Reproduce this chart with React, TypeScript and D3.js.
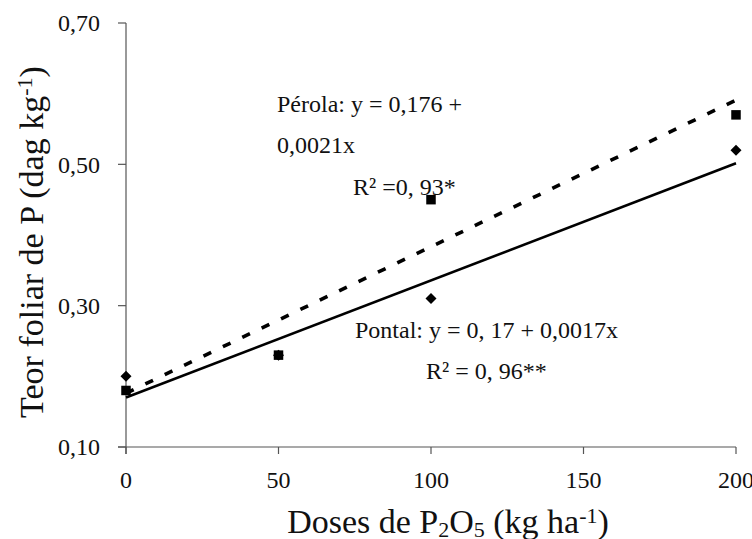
import React from "react";
import * as d3 from "d3";

const doses = [0, 50, 100, 200];
const perola = [0.18, 0.23, 0.45, 0.57];
const pontal = [0.2, 0.23, 0.31, 0.52];
const xTicks = [0, 50, 100, 150, 200];
const yTicks = [0.1, 0.3, 0.5, 0.7];

const W = 752;
const H = 539;
const FONT = "'Liberation Serif', 'Times New Roman', serif";

function fit(xs: number[], ys: number[]) {
  const mx = d3.mean(xs) as number;
  const my = d3.mean(ys) as number;
  let sxy = 0;
  let sxx = 0;
  xs.forEach((v, i) => {
    sxy += (v - mx) * (ys[i] - my);
    sxx += (v - mx) * (v - mx);
  });
  const b = sxy / sxx;
  const a = my - b * mx;
  return (v: number) => a + b * v;
}

const fmt = (v: number) => v.toFixed(2).replace(".", ",");

export default function App() {
  const x = d3.scaleLinear().domain([0, 200]).range([126, 736]);
  const y = d3.scaleLinear().domain([0.1, 0.7]).range([447, 23]);

  const fPer = fit(doses, perola);
  const fPon = fit(doses, pontal);
  const ends = [0, 200];
  const perLine = d3
    .line<number>()
    .x((d) => x(d))
    .y((d) => y(fPer(d)))(ends) as string;
  const ponLine = d3
    .line<number>()
    .x((d) => x(d))
    .y((d) => y(fPon(d)))(ends) as string;

  const axisColor = "#555";
  const sq = 9.5;
  const dm = 5.5;

  return (
    <svg
      width={W}
      height={H}
      style={{ position: "absolute", left: 0, top: 0, background: "#fff" }}
      fontFamily={FONT}
    >
      {/* axes */}
      <line x1={x(0)} x2={x(0)} y1={y(0.7)} y2={y(0.1) + 7} stroke={axisColor} strokeWidth={1.2} />
      <line x1={x(0) - 8} x2={x(200)} y1={y(0.1)} y2={y(0.1)} stroke={axisColor} strokeWidth={1.2} />
      {yTicks.map((t) => (
        <g key={"y" + t}>
          <line x1={x(0) - 8} x2={x(0)} y1={y(t)} y2={y(t)} stroke={axisColor} strokeWidth={1.2} />
          <text x={100} y={y(t)} dy="0.35em" textAnchor="end" fontSize={24} fill="#111">
            {fmt(t)}
          </text>
        </g>
      ))}
      {xTicks.map((t) => (
        <g key={"x" + t}>
          <line x1={x(t)} x2={x(t)} y1={y(0.1)} y2={y(0.1) + 7} stroke={axisColor} strokeWidth={1.2} />
          <text x={x(t)} y={488} textAnchor="middle" fontSize={24} fill="#111">
            {t}
          </text>
        </g>
      ))}

      {/* trend lines */}
      <path d={ponLine} fill="none" stroke="#000" strokeWidth={2.6} />
      <path d={perLine} fill="none" stroke="#000" strokeWidth={3.6} strokeDasharray="8.5,13" />

      {/* markers */}
      {doses.map((d, i) => (
        <rect
          key={"p" + i}
          x={x(d) - sq / 2}
          y={y(perola[i]) - sq / 2}
          width={sq}
          height={sq}
          fill="#000"
        />
      ))}
      {doses.map((d, i) => {
        const cx = x(d);
        const cy = y(pontal[i]);
        return (
          <polygon
            key={"d" + i}
            points={`${cx},${cy - dm} ${cx + dm},${cy} ${cx},${cy + dm} ${cx - dm},${cy}`}
            fill="#000"
          />
        );
      })}

      {/* annotations */}
      <g fontSize={24} fill="#111">
        <text x={277} y={112}>Pérola: y = 0,176 +</text>
        <text x={277} y={153}>0,0021x</text>
        <text x={353} y={195}>R² =0, 93*</text>
        <text x={355} y={338}>Pontal: y = 0, 17 + 0,0017x</text>
        <text x={426} y={379}>R² = 0, 96**</text>
      </g>

      {/* axis titles */}
      <text x={448} y={533} textAnchor="middle" fontSize={34} fill="#111">
        Doses de P<tspan fontSize={22} dy={4}>2</tspan>
        <tspan dy={-4}>O</tspan>
        <tspan fontSize={22} dy={4}>5</tspan>
        <tspan dy={-4}> (kg ha</tspan>
        <tspan fontSize={22} dy={-10}>-1</tspan>
        <tspan dy={10}>)</tspan>
      </text>
      <text
        transform={`translate(43,242) rotate(-90)`}
        textAnchor="middle"
        fontSize={34}
        fill="#111"
      >
        Teor foliar de P (dag kg<tspan fontSize={22} dy={-11}>-1</tspan>
        <tspan dy={11}>)</tspan>
      </text>
    </svg>
  );
}
